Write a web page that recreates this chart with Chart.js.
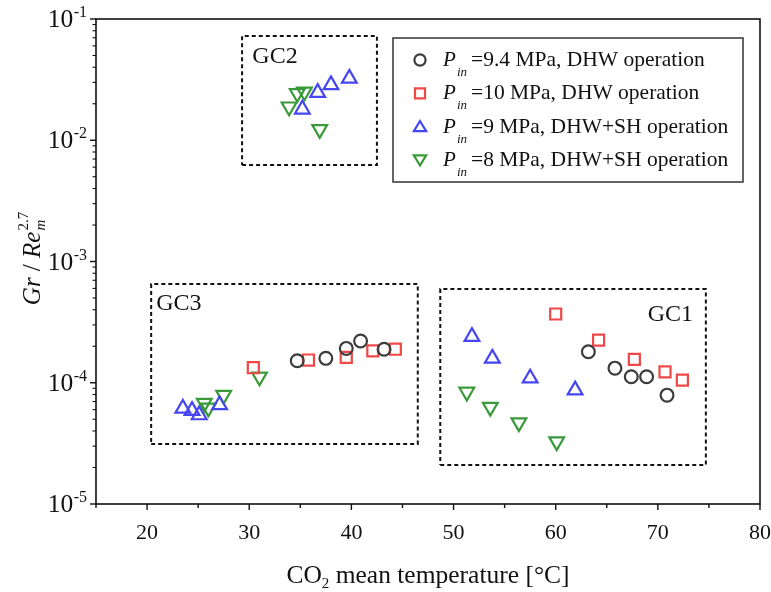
<!DOCTYPE html>
<html><head><meta charset="utf-8">
<script src="https://cdn.jsdelivr.net/npm/chart.js@4"></script>
<style>html,body{margin:0;padding:0;background:#fff}</style>
</head><body>
<canvas id="c" width="771" height="592"></canvas>
<script>
// ---- data ----
const seriesLabels = ['=9.4 MPa, DHW operation', '=10 MPa, DHW operation', '=9 MPa, DHW+SH operation', '=8 MPa, DHW+SH operation'];
const p94X = [34.7, 37.5, 39.5, 40.9, 43.2, 63.2, 65.8, 67.4, 68.9, 70.9];
const p94Y = [1.52e-4, 1.59e-4, 1.92e-4, 2.21e-4, 1.89e-4, 1.80e-4, 1.32e-4, 1.12e-4, 1.12e-4, 7.9e-5];
const p10X = [30.4, 35.8, 39.5, 42.1, 44.3, 60.0, 64.2, 67.7, 70.7, 72.4];
const p10Y = [1.33e-4, 1.54e-4, 1.62e-4, 1.83e-4, 1.89e-4, 3.69e-4, 2.25e-4, 1.56e-4, 1.23e-4, 1.05e-4];
const p9X = [23.5, 24.4, 25.1, 27.1, 35.2, 36.7, 38.0, 39.8, 51.8, 53.8, 57.5, 61.9];
const p9Y = [6.15e-5, 5.89e-5, 5.42e-5, 6.56e-5, 0.0180, 0.0247, 0.0286, 0.0324, 2.40e-4, 1.59e-4, 1.09e-4, 8.7e-5];
const p8X = [25.6, 26.0, 27.5, 31.0, 33.9, 34.7, 35.4, 36.9, 51.3, 53.6, 56.4, 60.1];
const p8Y = [6.8e-5, 6.2e-5, 7.9e-5, 1.12e-4, 0.0189, 0.0244, 0.0251, 0.0123, 8.4e-5, 6.3e-5, 4.69e-5, 3.27e-5];

const groupNames = ['GC1', 'GC2', 'GC3'];
const groupBoxX = [[48.7, 74.7], [29.3, 42.5], [20.4, 46.5]];
const groupBoxY = [[2.1e-5, 5.93e-4], [6.25e-3, 7.24e-2], [3.13e-5, 6.52e-4]];
const groupLabelX = [69.0, 30.3, 20.9];
const groupLabelY = [3.23e-4, 4.34e-2, 3.98e-4];

const xTickValues = [15, 20, 25, 30, 35, 40, 45, 50, 55, 60, 65, 70, 75, 80];
const xTickLabels = ['', '20', '', '30', '', '40', '', '50', '', '60', '', '70', '', '80'];
const yTickValues = [1e-5, 1e-4, 1e-3, 1e-2, 1e-1];
const yTickBase = '10';
const yTickExponents = ['-5', '-4', '-3', '-2', '-1'];

// ---- styles ----
const SERIF = '"Liberation Serif", "Times New Roman", serif';
const colors = ['#3c3c3c', '#f04848', '#4646f0', '#3a9a3a'];
const styles = [
  {pointStyle: 'circle', radius: 6.4, rotation: 0},
  {pointStyle: 'rect', radius: 7.8, rotation: 0},
  {pointStyle: 'triangle', radius: 8.5, rotation: 0},
  {pointStyle: 'triangle', radius: 8.5, rotation: 180}
];
const xs = [p94X, p10X, p9X, p8X];
const ys = [p94Y, p10Y, p9Y, p8Y];

const datasets = [];
groupBoxX.forEach((bx, i) => {
  const by = groupBoxY[i];
  datasets.push({
    label: groupNames[i], type: 'scatter', showLine: true, fill: false,
    data: [{x: bx[0], y: by[0]}, {x: bx[1], y: by[0]}, {x: bx[1], y: by[1]}, {x: bx[0], y: by[1]}, {x: bx[0], y: by[0]}],
    borderColor: '#111', borderWidth: 2, borderDash: [4, 3], pointRadius: 0, tension: 0, order: 10
  });
});
seriesLabels.forEach((lab, i) => {
  datasets.push({
    label: lab, type: 'scatter',
    data: xs[i].map((x, j) => ({x: x, y: ys[i][j]})),
    borderColor: colors[i], backgroundColor: 'rgba(0,0,0,0)', borderWidth: 2.2,
    pointStyle: styles[i].pointStyle, pointRadius: styles[i].radius, pointRotation: styles[i].rotation,
    pointHoverRadius: styles[i].radius, order: i
  });
});

function drawMarker(ctx, style, x, y, r, color) {
  ctx.save();
  ctx.strokeStyle = color; ctx.lineWidth = 2.2;
  ctx.beginPath();
  if (style === 0) { ctx.arc(x, y, r, 0, Math.PI * 2); }
  else if (style === 1) { ctx.rect(x - r, y - r, 2 * r, 2 * r); }
  else if (style === 2) { ctx.moveTo(x, y - r); ctx.lineTo(x + r * 1.1, y + r * 0.8); ctx.lineTo(x - r * 1.1, y + r * 0.8); ctx.closePath(); }
  else { ctx.moveTo(x, y + r); ctx.lineTo(x + r * 1.1, y - r * 0.8); ctx.lineTo(x - r * 1.1, y - r * 0.8); ctx.closePath(); }
  ctx.stroke();
  ctx.restore();
}

const decor = {
  id: 'decor',
  afterDraw(chart) {
    const ctx = chart.ctx, a = chart.chartArea;
    const sx = chart.scales.x, sy = chart.scales.y;
    ctx.save();
    // frame
    ctx.strokeStyle = '#111'; ctx.lineWidth = 1.6;
    ctx.strokeRect(a.left, a.top, a.right - a.left, a.bottom - a.top);
    // x ticks
    ctx.lineWidth = 1.4;
    xTickValues.forEach((v, i) => {
      const px = sx.getPixelForValue(v);
      const len = xTickLabels[i] ? 6 : 4;
      ctx.beginPath(); ctx.moveTo(px, a.bottom); ctx.lineTo(px, a.bottom + len); ctx.stroke();
    });
    // y ticks (log major + minor)
    for (let d = 0; d < yTickValues.length; d++) {
      const base = yTickValues[d];
      const py = sy.getPixelForValue(base);
      ctx.lineWidth = 1.4;
      ctx.beginPath(); ctx.moveTo(a.left, py); ctx.lineTo(a.left - 6, py); ctx.stroke();
      if (d < yTickValues.length - 1) {
        ctx.lineWidth = 1.1;
        for (let m = 2; m <= 9; m++) {
          const pm = sy.getPixelForValue(base * m);
          ctx.beginPath(); ctx.moveTo(a.left, pm); ctx.lineTo(a.left - 3.5, pm); ctx.stroke();
        }
      }
    }
    // y tick labels
    ctx.fillStyle = '#111';
    yTickValues.forEach((v, i) => {
      const py = sy.getPixelForValue(v);
      ctx.textAlign = 'right'; ctx.textBaseline = 'alphabetic';
      ctx.font = '16px ' + SERIF;
      const rx = a.left - 9;
      const we = ctx.measureText(yTickExponents[i]).width;
      ctx.fillText(yTickExponents[i], rx, py - 2);
      ctx.font = '25.5px ' + SERIF;
      ctx.fillText(yTickBase, rx - we - 0.5, py + 8);
    });
    // group labels
    ctx.font = '24px ' + SERIF; ctx.textAlign = 'left'; ctx.textBaseline = 'alphabetic';
    groupNames.forEach((g, i) => {
      ctx.fillText(g, sx.getPixelForValue(groupLabelX[i]), sy.getPixelForValue(groupLabelY[i]));
    });
    // legend box
    ctx.strokeStyle = '#333'; ctx.lineWidth = 1.5;
    ctx.strokeRect(393, 38, 350, 144);
    const base0 = 66, step = 33.3;
    seriesLabels.forEach((lab, i) => {
      const by = base0 + i * step;
      drawMarker(ctx, i, 420, by - 6, i === 1 ? 5 : 5.6, colors[i]);
      ctx.fillStyle = '#111';
      ctx.font = 'italic 21px ' + SERIF; ctx.textAlign = 'left';
      ctx.fillText('P', 443, by);
      ctx.font = 'italic 13px ' + SERIF;
      ctx.fillText('in', 457, by + 10);
      ctx.font = '21.5px ' + SERIF;
      ctx.fillText(lab, 471, by);
    });
    // x axis title
    ctx.font = '25.5px ' + SERIF;
    const t1 = 'CO', t2 = '2', t3 = ' mean temperature [°C]';
    const w1 = ctx.measureText(t1).width, w3 = ctx.measureText(t3).width;
    ctx.font = '15px ' + SERIF;
    const w2 = ctx.measureText(t2).width;
    const tot = w1 + w2 + w3;
    let x0 = (a.left + a.right) / 2 - tot / 2;
    const bl = 583;
    ctx.font = '25.5px ' + SERIF; ctx.fillText(t1, x0, bl);
    ctx.font = '15px ' + SERIF; ctx.fillText(t2, x0 + w1, bl + 5);
    ctx.font = '25.5px ' + SERIF; ctx.fillText(t3, x0 + w1 + w2, bl);
    // y axis title
    ctx.save();
    ctx.translate(40, 259);
    ctx.rotate(-Math.PI / 2);
    ctx.font = 'italic 25px ' + SERIF;
    const ya = 'Gr', yb = ' / ', yc = 'Re';
    const wa = ctx.measureText(ya).width, wc = ctx.measureText(yc).width;
    ctx.font = '25px ' + SERIF;
    const wb = ctx.measureText(yb).width;
    ctx.font = '15px ' + SERIF;
    const wsup = ctx.measureText('2.7').width;
    const ytot = wa + wb + wc + wsup;
    let yx = -ytot / 2;
    ctx.font = 'italic 25px ' + SERIF; ctx.fillText(ya, yx, 0); yx += wa;
    ctx.font = '25px ' + SERIF; ctx.fillText(yb, yx, 0); yx += wb;
    ctx.font = 'italic 25px ' + SERIF; ctx.fillText(yc, yx, 0); yx += wc;
    ctx.font = '15px ' + SERIF; ctx.fillText('2.7', yx + 1, -12);
    ctx.font = 'italic 15px ' + SERIF; ctx.fillText('m', yx + 1, 5);
    ctx.restore();
    ctx.restore();
  }
};

new Chart(document.getElementById('c'), {
  type: 'scatter',
  data: {datasets: datasets},
  options: {
    responsive: false, animation: false, devicePixelRatio: 1,
    layout: {padding: {left: 0, right: 11, top: 19, bottom: 0}},
    plugins: {legend: {display: false}, tooltip: {enabled: false}},
    scales: {
      x: {
        type: 'linear', min: 15, max: 80,
        afterBuildTicks: s => { s.ticks = xTickValues.map(v => ({value: v})); },
        ticks: {
          autoSkip: false, maxRotation: 0, padding: 8, color: '#111',
          font: {family: SERIF, size: 22},
          callback: (v) => { const i = xTickValues.indexOf(v); return i >= 0 ? xTickLabels[i] : ''; }
        },
        grid: {display: false}, border: {display: false},
        afterFit: s => { s.height = 88; s.paddingLeft = 0; s.paddingRight = 0; }
      },
      y: {
        type: 'logarithmic', min: 1e-5, max: 1e-1,
        ticks: {display: false},
        grid: {display: false}, border: {display: false},
        afterFit: s => { s.width = 96; s.paddingTop = 0; s.paddingBottom = 0; }
      }
    }
  },
  plugins: [decor]
});
</script>
</body></html>
